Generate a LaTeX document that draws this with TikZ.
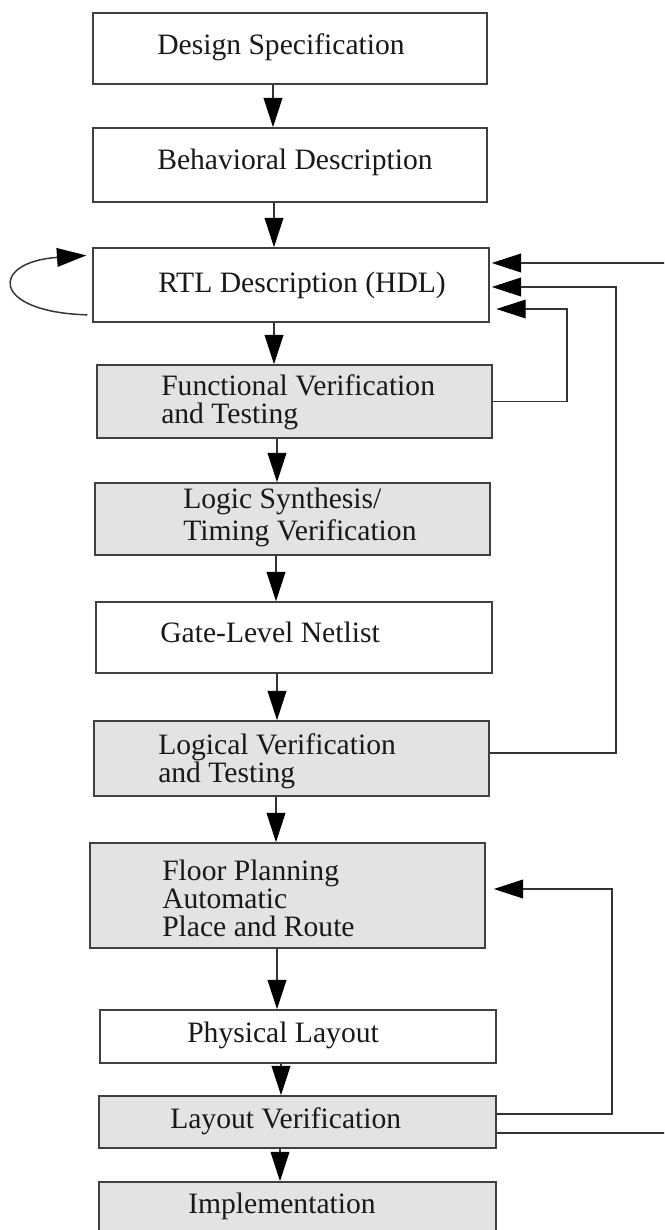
\documentclass[tikz,border=0pt]{standalone}
\usepackage{fontspec}
\setmainfont{Liberation Serif}
\usetikzlibrary{arrows.meta,fit}
\tikzset{
  box/.style={draw=black!75, line width=1.1pt, inner sep=0pt, fill=white},
  gbox/.style={box, fill=black!11},
  txt/.style={anchor=base west, inner sep=0pt, align=left, font=\fontsize{22.2}{21}\selectfont, text=black!90},
  flow/.style={draw=black!80, line width=1.1pt, -{Triangle[length=22pt,width=14pt,fill=black,color=black]}},
}
\begin{document}
\begin{tikzpicture}[x=0.75pt,y=-0.75pt]
\useasboundingbox (0,0) rectangle (664,1230);
\clip (0,0) rectangle (664,1230);
% boxes
\node[box, fit={(93,13) (487,84)}] (design) {};
\node[box, fit={(93,128) (487,202)}] (behav) {};
\node[box, fit={(93,248) (489,322)}] (rtl) {};
\node[gbox, fit={(97,365) (492,438)}] (func) {};
\node[gbox, fit={(95,483) (490,555)}] (synth) {};
\node[box, fit={(96,602) (492,673)}] (gate) {};
\node[gbox, fit={(94,721) (489,796)}] (logver) {};
\node[gbox, fit={(90,843) (485,948)}] (floor) {};
\node[box, fit={(100,1010) (496,1063)}] (phys) {};
\node[gbox, fit={(99,1096) (496,1148)}] (layver) {};
\node[gbox, fit={(99,1182) (496,1240)}] (impl) {};
% texts (base = baseline of last line)
\node[txt] (designtxt) at (157,55) {Design Specification};
\node[txt] (behavtxt) at (157,170) {Behavioral Description};
\node[txt] (rtltxt) at (158,292) {RTL Description (HDL)};
\node[txt] (functxt) at (161,423) {Functional Verification\\and Testing};
\node[txt] (synthtxt) at (183,540) {Logic Synthesis/\\[3pt]Timing Verification};
\node[txt] (gatetxt) at (160,642) {Gate-Level Netlist};
\node[txt] (logvertxt) at (158,782) {Logical Verification\\and Testing};
\node[txt] (floortxt) at (162,936) {Floor Planning\\Automatic\\Place and Route};
\node[txt] (phystxt) at (187,1042) {Physical Layout};
\node[txt] (layvertxt) at (170,1128) {Layout Verification};
\node[txt] (impltxt) at (188,1213) {Implementation};
% main flow
\draw[flow] (design.south -| 273,0) -- (behav.north -| 273,0);
\draw[flow] (behav.south -| 274,0) -- (rtl.north -| 274,0);
\draw[flow] (rtl.south -| 274,0) -- (func.north -| 274,0);
\draw[flow] (func.south -| 277,0) -- (synth.north -| 277,0);
\draw[flow] (synth.south -| 276,0) -- (gate.north -| 276,0);
\draw[flow] (gate.south -| 277,0) -- (logver.north -| 277,0);
\draw[flow] (logver.south -| 276,0) -- (floor.north -| 276,0);
\draw[flow] (floor.south -| 277,0) -- (phys.north -| 277,0);
\draw[flow] (phys.south -| 281,0) -- (layver.north -| 281,0);
\draw[flow] (layver.south -| 280,0) -- (impl.north -| 280,0);
% feedback
\draw[flow, shorten <=3.75pt, shorten >=4.5pt] (rtl.west |- 0,315) .. controls (-10,312) and (-10,262) .. (rtl.west |- 0,255);
\draw[flow, shorten >=5pt] (func.east) -| (567,309) -- (rtl.east |- 0,309);
\draw[flow, shorten >=1.5pt] ([yshift=4pt]logver.east) -| (616,287) -- (rtl.east |- 0,287);
\draw[flow, shorten >=1.5pt] ([yshift=-8.25pt]layver.east) -| (672,263) -- (rtl.east |- 0,263);
\draw[flow, shorten >=6pt] ([yshift=6pt]layver.east) -| (612,889) -- (floor.east |- 0,889);
\end{tikzpicture}
\end{document}
